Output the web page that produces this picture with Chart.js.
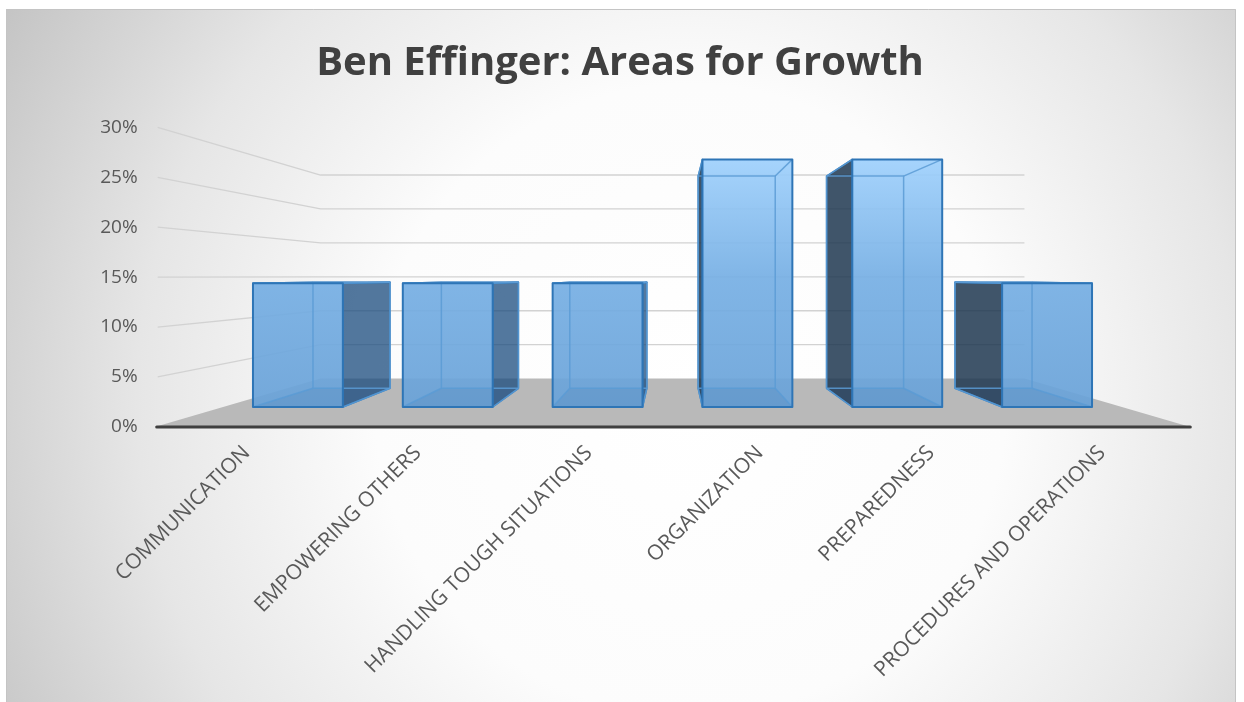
<!DOCTYPE html>
<html>
<head>
<meta charset="utf-8">
<script src="https://cdn.jsdelivr.net/npm/chart.js@4.4.1/dist/chart.umd.min.js"></script>
<style>
  html, body { margin: 0; padding: 0; background: #fff; }
  canvas { display: block; }
</style>
</head>
<body>
<canvas id="growth" width="1244" height="702"></canvas>
<script>
// areas for growth, share of responses (%)
const chartTitle = "Ben Effinger: Areas for Growth";
const categories = [
  "COMMUNICATION",
  "EMPOWERING OTHERS",
  "HANDLING TOUGH SITUATIONS",
  "ORGANIZATION",
  "PREPAREDNESS",
  "PROCEDURES AND OPERATIONS"
];
const shares = [14.29, 14.29, 14.29, 28.57, 28.57, 14.29];
const axisMax = 30;
const axisStep = 5;

// perspective: distances from the vanishing point, relative to the bar front plane
const depth = { front: 1.152, labels: 1.142, wall: 0.783, barBack: 0.857 };
const horizonValue = 15.1;

function vanishing(chart) {
  const a = chart.chartArea;
  return { x: (a.left + a.right) / 2, y: chart.scales.y.getPixelForValue(horizonValue) };
}

function proj(vp, x, y, f) {
  return [vp.x + (x - vp.x) * f, vp.y + (y - vp.y) * f];
}

function poly(ctx, pts) {
  ctx.beginPath();
  ctx.moveTo(pts[0][0], pts[0][1]);
  for (let i = 1; i < pts.length; i++) ctx.lineTo(pts[i][0], pts[i][1]);
  ctx.closePath();
}

function barBox(bar, vp) {
  const x0 = bar.x - bar.width / 2, x1 = bar.x + bar.width / 2;
  const top = bar.y, base = bar.base;
  const f = depth.barBack;
  return {
    front: [[x0, top], [x1, top], [x1, base], [x0, base]],
    back: [proj(vp, x0, top, f), proj(vp, x1, top, f), proj(vp, x1, base, f), proj(vp, x0, base, f)]
  };
}

const room3d = {
  id: "room3d",
  beforeDraw(chart) {
    const ctx = chart.ctx;
    const a = chart.chartArea;
    const ys = chart.scales.y, xs = chart.scales.x;
    const vp = vanishing(chart);

    ctx.save();
    ctx.lineJoin = "round";
    // panel background
    const bg = ctx.createRadialGradient(690, 400, 0, 690, 400, 790);
    bg.addColorStop(0, "#ffffff");
    bg.addColorStop(0.4, "#fcfcfc");
    bg.addColorStop(0.7, "#e6e6e6");
    bg.addColorStop(1, "#c4c4c4");
    ctx.fillStyle = bg;
    ctx.fillRect(6, 9, 1230, 693);
    ctx.strokeStyle = "#c4c4c4";
    ctx.lineWidth = 1;
    ctx.strokeRect(6.5, 9.5, 1229, 693);

    // title
    ctx.fillStyle = "#404040";
    ctx.font = "bold 40px 'Open Sans'";
    ctx.textAlign = "center";
    ctx.textBaseline = "alphabetic";
    ctx.fillText(chartTitle, 620, 75);

    const y0 = ys.getPixelForValue(0);
    const fl = proj(vp, a.left, y0, depth.front);
    const fr = proj(vp, a.right, y0, depth.front);
    const bl = proj(vp, a.left, y0, depth.wall);
    const br = proj(vp, a.right, y0, depth.wall);

    // gridlines on side wall and back wall
    ctx.strokeStyle = "#d2d2d2";
    ctx.lineWidth = 1.3;
    ys.ticks.forEach(t => {
      if (t.value === 0) return;
      const py = ys.getPixelForValue(t.value);
      const p1 = proj(vp, a.left, py, depth.front);
      const p2 = proj(vp, a.left, py, depth.wall);
      const p3 = proj(vp, a.right, py, depth.wall);
      ctx.beginPath();
      ctx.moveTo(p1[0] + 3, p1[1]);
      ctx.lineTo(p2[0], p2[1]);
      ctx.lineTo(p3[0], p3[1]);
      ctx.stroke();
    });

    // floor
    ctx.fillStyle = "#b9b9b9";
    poly(ctx, [fl, fr, br, bl]);
    ctx.fill();
    ctx.strokeStyle = "#3f3f3f";
    ctx.lineWidth = 3;
    ctx.lineCap = "round";
    ctx.beginPath();
    ctx.moveTo(fl[0] + 2, fl[1]);
    ctx.lineTo(fr[0], fr[1]);
    ctx.stroke();

    // value labels on the front edge
    ctx.fillStyle = "#595959";
    ctx.font = "19px 'Open Sans'";
    ctx.textAlign = "right";
    ctx.textBaseline = "middle";
    ys.ticks.forEach(t => {
      const p = proj(vp, a.left, ys.getPixelForValue(t.value), depth.front);
      ctx.fillText(t.value + "%", p[0] - 17, p[1]);
    });

    // category labels, rotated
    ctx.font = "21px 'Open Sans'";
    categories.forEach((label, i) => {
      const p = proj(vp, xs.getPixelForValue(i), y0, depth.labels);
      ctx.save();
      ctx.translate(p[0] + 2, p[1] + 24);
      ctx.rotate(-Math.PI / 4);
      ctx.fillText(label, 0, 0);
      ctx.restore();
    });
    ctx.restore();
  },
  beforeDatasetsDraw(chart) {
    const ctx = chart.ctx;
    const vp = vanishing(chart);
    ctx.save();
    ctx.lineJoin = "round";
    chart.getDatasetMeta(0).data.forEach(bar => {
      const b = barBox(bar, vp);
      const rightSide = bar.x < vp.x;
      const face = rightSide
        ? [b.front[1], b.back[1], b.back[2], b.front[2]]
        : [b.front[0], b.back[0], b.back[3], b.front[3]];
      ctx.fillStyle = rightSide ? "rgba(25,75,125,0.75)" : "rgba(30,55,80,0.85)";
      poly(ctx, face);
      ctx.fill();
      ctx.strokeStyle = "#2e75b6";
      ctx.lineWidth = 1.5;
      ctx.stroke();
      // top face when seen from above
      if (bar.y > vp.y) {
        ctx.fillStyle = "rgba(120,175,230,0.9)";
        poly(ctx, [b.front[0], b.front[1], b.back[1], b.back[0]]);
        ctx.fill();
        ctx.stroke();
      }
    });
    ctx.restore();
  },
  afterDatasetsDraw(chart) {
    const ctx = chart.ctx;
    const vp = vanishing(chart);
    ctx.save();
    ctx.lineJoin = "round";
    chart.getDatasetMeta(0).data.forEach(bar => {
      const b = barBox(bar, vp);
      // floor of the box, seen through the front
      ctx.fillStyle = "rgba(40,90,150,0.12)";
      poly(ctx, [b.front[3], b.front[2], b.back[2], b.back[3]]);
      ctx.fill();
      // hidden edges showing through
      ctx.strokeStyle = "rgba(91,155,213,0.85)";
      ctx.lineWidth = 1.5;
      poly(ctx, b.back);
      ctx.stroke();
      for (let k = 0; k < 4; k++) {
        ctx.beginPath();
        ctx.moveTo(b.back[k][0], b.back[k][1]);
        ctx.lineTo(b.front[k][0], b.front[k][1]);
        ctx.stroke();
      }
      // front outline on top
      ctx.strokeStyle = "#2e75b6";
      ctx.lineWidth = 2;
      poly(ctx, b.front);
      ctx.stroke();
    });
    ctx.restore();
  }
};

const ctx = document.getElementById("growth").getContext("2d");
new Chart(ctx, {
  type: "bar",
  data: {
    labels: categories,
    datasets: [
      {
        label: "Areas for Growth",
        data: shares,
        backgroundColor: function(c) {
          const area = c.chart.chartArea;
          if (!area) return "#6fa8dc";
          const g = c.chart.ctx.createLinearGradient(0, area.top, 0, area.bottom);
          g.addColorStop(0, "rgba(163,212,255,0.92)");
          g.addColorStop(0.5, "rgba(118,175,228,0.92)");
          g.addColorStop(1, "rgba(105,162,216,0.92)");
          return g;
        },
        borderWidth: 0,
        barPercentage: 0.6,
        categoryPercentage: 1
      }
    ]
  },
  options: {
    responsive: false,
    animation: false,
    layout: {
      padding: { left: 223, right: 122, top: 147, bottom: 295 }
    },
    scales: {
      x: { display: false },
      y: {
        display: false,
        min: 0,
        max: axisMax,
        ticks: { stepSize: axisStep }
      }
    },
    plugins: {
      legend: { display: false },
      tooltip: { enabled: false },
      title: { display: false }
    }
  },
  plugins: [room3d]
});
</script>
</body>
</html>
